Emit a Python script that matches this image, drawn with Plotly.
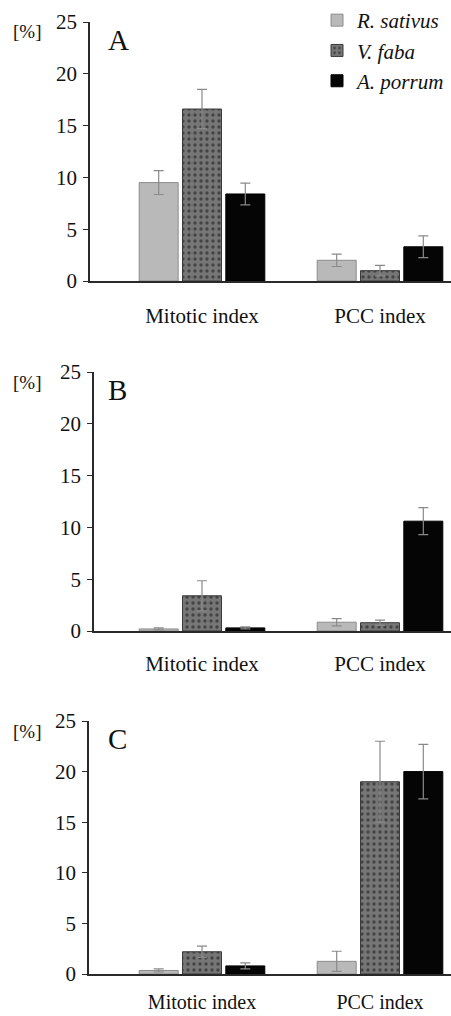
import plotly.graph_objects as go

categories = ["Mitotic index", "PCC index"]
cat_pos = [0, 1]
species = ["R. sativus", "V. faba", "A. porrum"]

# Panel A
a_rs = [9.5, 2.0]
a_vf = [16.6, 1.0]
a_ap = [8.4, 3.3]
a_rs_err = [1.15, 0.6]
a_vf_err = [1.9, 0.5]
a_ap_err = [1.05, 1.05]
# Panel B
b_rs = [0.2, 0.85]
b_vf = [3.4, 0.8]
b_ap = [0.3, 10.6]
b_rs_err = [0.1, 0.35]
b_vf_err = [1.45, 0.25]
b_ap_err = [0.1, 1.3]
# Panel C
c_rs = [0.35, 1.25]
c_vf = [2.2, 19.0]
c_ap = [0.8, 20.0]
c_rs_err = [0.15, 1.0]
c_vf_err = [0.55, 4.0]
c_ap_err = [0.3, 2.7]

y_ticks = [0, 5, 10, 15, 20, 25]
panel_letters = ["A", "B", "C"]

panels = [
    (a_rs, a_vf, a_ap, a_rs_err, a_vf_err, a_ap_err),
    (b_rs, b_vf, b_ap, b_rs_err, b_vf_err, b_ap_err),
    (c_rs, c_vf, c_ap, c_rs_err, c_vf_err, c_ap_err),
]

W, H = 451, 1016
FONT = "Liberation Serif, Times New Roman, serif"
AX = "#2a2a2a"
ERR = "#8a8a8a"

# layout geometry (pixels)
y0_px = [281, 631, 974]
y25_px = [22, 372, 721]
axis_x_px = [90, 94, 89]
label_standoff = [15, 13, 9]
c0_px, c1_px = 202, 380

styles = [
    dict(color="#b9b9b9", line=dict(color="#8c8c8c", width=1)),
    dict(color="#6e6e6e", line=dict(color="#3a3a3a", width=1),
         pattern=dict(shape=".", fgcolor="#111111", bgcolor="#767676", size=6, solidity=0.25)),
    dict(color="#050505", line=dict(color="#000000", width=1)),
]

fig = go.Figure()
for i, vals in enumerate(panels):
    sfx = "" if i == 0 else str(i + 1)
    for j in range(3):
        fig.add_trace(go.Bar(
            x=cat_pos, y=vals[j], name=f"<i>{species[j]}</i>",
            marker=styles[j],
            error_y=dict(type="data", array=vals[3 + j], visible=True,
                         color=ERR, thickness=1.2, width=5),
            xaxis="x" + sfx, yaxis="y" + sfx,
            showlegend=(i == 0), legendgroup=species[j],
        ))
    L = axis_x_px[i]
    scale = c1_px - c0_px
    xr = [(L - c0_px) / scale, 1 + (W - c1_px) / scale]
    fig.update_layout(**{
        "xaxis" + sfx: dict(
            domain=[L / W, 1.0], range=xr, anchor="y" + sfx,
            tickvals=cat_pos, ticktext=categories, ticks="",
            showline=True, linecolor=AX, linewidth=1.5,
            showgrid=False, zeroline=False, ticklabelstandoff=label_standoff[i],
            tickfont=dict(family=FONT, size=21 if i < 2 else 20, color="#111111"),
        ),
        "yaxis" + sfx: dict(
            domain=[1 - y0_px[i] / H, 1 - y25_px[i] / H], range=[0, 25],
            anchor="x" + sfx, tickvals=y_ticks, ticks="outside", ticklen=5,
            tickcolor=AX, tickwidth=1.2,
            showline=True, linecolor=AX, linewidth=1.5,
            showgrid=False, zeroline=False, ticklabelstandoff=2,
            tickfont=dict(family=FONT, size=21, color="#111111"),
        ),
    })
    fig.add_annotation(x=27 / W, y=1 - (y25_px[i] + 10) / H, xref="paper", yref="paper",
                       text="[%]", showarrow=False, xanchor="center", yanchor="middle",
                       font=dict(family=FONT, size=19, color="#111111"))
    fig.add_annotation(x=106 / W, y=1 - (y25_px[i] + 18) / H, xref="paper", yref="paper",
                       text=panel_letters[i], showarrow=False, xanchor="left", yanchor="middle",
                       font=dict(family=FONT, size=29, color="#111111"))

fig.update_layout(
    width=W, height=H, margin=dict(l=0, r=0, t=0, b=0, autoexpand=False),
    plot_bgcolor="white", paper_bgcolor="white",
    barmode="group", bargap=0.27, bargroupgap=0.1,
    showlegend=True,
    font=dict(family=FONT),
    legend=dict(x=1.0, y=1.0, xanchor="right", yanchor="top",
                font=dict(family=FONT, size=21, color="#111111"),
                bgcolor="rgba(0,0,0,0)", tracegroupgap=0, itemwidth=30),
)

fig.write_html("out.html")
